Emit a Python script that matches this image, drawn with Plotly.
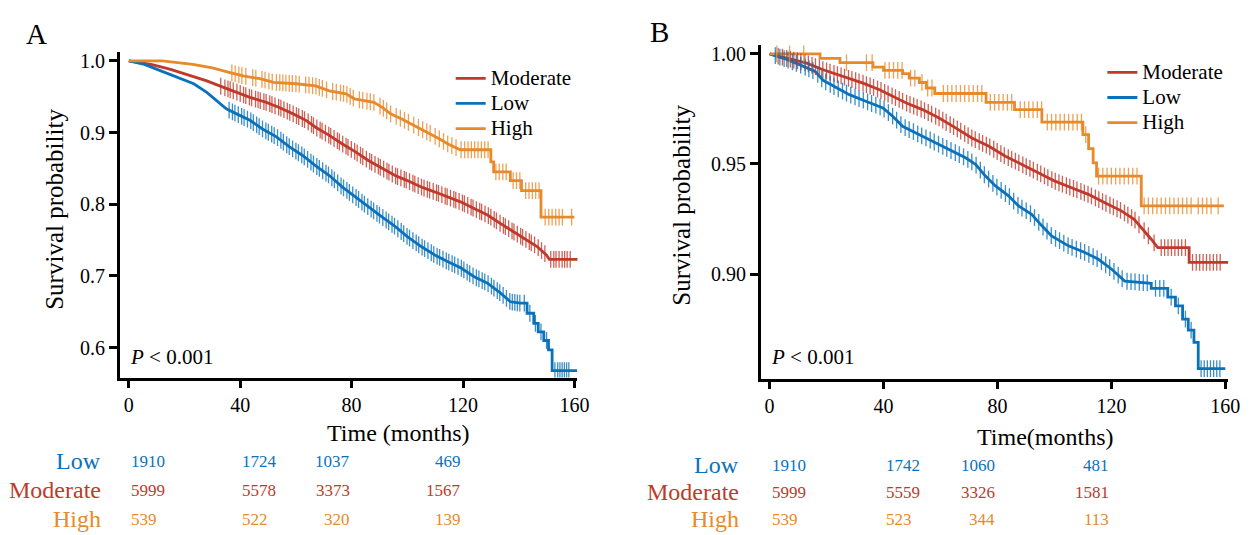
import numpy as np
import plotly.graph_objects as go

FONT = "Liberation Serif"
C_MOD = "#C0392B"
C_LOW = "#0A72BA"
C_HIGH = "#E8892A"

groups = ["Moderate", "Low", "High"]
colors = {"Moderate": C_MOD, "Low": C_LOW, "High": C_HIGH}

# ---------------- Panel A curves ----------------
A_mod_t = [0, 8, 15, 22, 28, 34, 39, 43.5, 49.4, 54, 59, 63.6, 67.2, 72, 76.7, 81.4, 86, 91, 95.6, 100,
           105, 110, 114.6, 119.3, 124, 128.8, 133.5, 138, 143, 146.6, 150, 151, 161.4]
A_mod_s = [1, .995, .988, .979, .972, .963, .956, .949, .942, .935, .926, .917, .907, .896, .884, .873, .861,
           .85, .84, .833, .824, .817, .81, .803, .794, .785, .773, .762, .75, .741, .729, .723, .723]

A_low_t = [0, 5.6, 11.5, 17.4, 23.3, 28, 31.6, 35, 38.7, 43.5, 48, 53, 57.7, 62.4, 67, 72, 76.7, 81.4, 86,
           91, 95.6, 100, 105, 110, 114.6, 119.3, 124, 128.8, 133.5, 137, 140.6, 143, 143, 145.4, 145.4,
           147, 147, 149, 149, 150.7, 150.7, 152, 152, 161]
A_low_s = [1, .995, .986, .977, .968, .956, .944, .933, .926, .917, .905, .894, .88, .868, .854, .84, .824,
           .81, .796, .782, .769, .755, .741, .729, .72, .711, .699, .69, .676, .664, .662, .662, .648, .648,
           .634, .634, .622, .622, .61, .61, .597, .597, .568, .568]

A_high_t = [0, 12, 23, 30, 36, 41, 47, 52, 60, 67, 72, 78, 81, 88, 91, 94, 98, 101.5, 105, 108.6, 111.6,
            114.6, 117, 119, 130, 130, 131, 131, 137, 137, 141, 141, 148, 148, 160]
A_high_s = [1, 1, .995, .99, .984, .979, .975, .97, .968, .965, .958, .954, .947, .942, .935, .926, .919,
            .912, .905, .898, .891, .884, .88, .876, .876, .859, .859, .845, .845, .833, .833, .819, .819,
            .782, .782]

A_mod_c = [33, 34.5, 35.6, 36.4, 37.5, 38.8, 40, 41.2, 42, 43.3, 44.1, 45.5, 46.4, 47.2, 48.5, 49.3, 50.6,
           51.4, 52.5, 53.8, 54.6, 55.7, 56.9, 57.8, 59, 60.2, 61, 62.3, 63.1, 64.4, 65.6, 66.3, 67.5, 68.7,
           69.4, 70.6, 71.8, 72.5, 73.7, 74.9, 75.6, 76.8, 78, 78.7, 79.9, 81.1, 82, 83.2, 84, 85.3, 86.5,
           87.2, 88.4, 89.6, 90.3, 91.5, 92.7, 93.4, 94.6, 95.8, 96.5, 97.7, 98.9, 99.6, 100.8, 102, 102.7,
           103.9, 105.1, 106, 107.2, 108, 109.3, 110.5, 111.2, 112.4, 113.6, 114.3, 115.5, 116.7, 117.4,
           118.6, 119.8, 120.5, 121.7, 122.9, 123.6, 124.8, 126, 126.7, 127.9, 129.1, 130, 131.2, 132,
           133.3, 134.5, 135.2, 136.4, 137.6, 138.3, 139.5, 140.7, 141.4, 142.6, 143.8, 144.5, 145.7,
           147, 148.2, 149.4, 151.5, 152.6, 153.4, 154.5, 155.6, 156.5, 157.4, 158.5]
A_low_c = [36, 37.2, 38.1, 39.3, 40.5, 41.4, 42.6, 43.8, 44.7, 45.9, 46.8, 48, 49.2, 50.1, 51.3, 52.2, 53.4,
           54.6, 55.5, 56.7, 57.6, 58.8, 60, 60.9, 62.1, 63, 64.2, 65.4, 66.3, 67.5, 68.4, 69.6, 70.8, 71.7,
           72.9, 73.8, 75, 76.2, 77.1, 78.3, 79.2, 80.4, 81.6, 82.5, 83.7, 84.6, 85.8, 87, 87.9, 89.1, 90,
           91.2, 92.4, 93.3, 94.5, 95.4, 96.6, 97.8, 98.7, 99.9, 100.8, 102, 103.2, 104.1, 105.3, 106.2,
           107.4, 108.6, 109.5, 110.7, 111.6, 112.8, 114, 114.9, 116.1, 117, 118.2, 119.4, 120.3, 121.5,
           122.4, 123.6, 124.8, 125.7, 126.9, 127.8, 129, 130.2, 131.1, 132.3, 133.2, 134.4, 135.6, 136.8,
           137.7, 138.6, 139.5, 140.4, 142, 144, 146, 148, 150, 153, 154, 154.8, 155.6, 156.4, 157.2, 158]
A_high_c = [37, 38.2, 39.5, 40.6, 42, 44.5, 45.6, 47.8, 48.9, 50.3, 51.5, 53, 54.2, 55.3, 56.4, 57.6, 58.7,
            60, 61.2, 63.5, 64.7, 66, 67.2, 68.4, 69.5, 71, 73.2, 74.5, 76, 77.1, 78.3, 79.5, 80.6, 82.8,
            84, 85.5, 86.7, 88, 90.2, 91.4, 92.6, 94, 96, 97.5, 99, 100.4, 102.3, 104, 105.5, 107, 108.2,
            110, 111.5, 113, 114.5, 116, 117.5, 119.3, 120.6, 121.8, 123, 124.2, 125.4, 126.6, 127.8, 129,
            131.8, 133, 134.3, 135.5, 138, 139.2, 140.4, 142.5, 143.7, 144.9, 146.1, 147.3, 149.5, 150.8,
            152, 153.3, 154.5, 155.7, 159]

# ---------------- Panel B curves ----------------
B_mod_t = [0, 6, 13, 18.8, 25.8, 32.8, 38.6, 43.3, 48, 53.7, 59.5, 65.3, 71, 77, 82.8, 88.6, 94.4, 100.2,
           106, 111.9, 117.7, 123.5, 128, 131.6, 134, 136.3, 147.3, 147.3, 162]
B_mod_s = [1, .998, .9958, .9928, .9897, .9867, .9837, .9807, .9777, .9747, .9709, .9664, .9618, .958,
           .9535, .9498, .946, .9422, .9392, .9362, .9324, .9287, .9249, .9196, .9158, .912, .912, .9053,
           .9053]

B_low_t = [0, 4.9, 10.7, 16, 18.8, 23.5, 28, 34, 39.8, 43.3, 46.7, 52.6, 58.4, 64.2, 68.8, 72.3, 75.8,
           79.3, 84, 87.4, 92, 95.6, 99, 104.9, 110.7, 115.3, 120, 124.7, 134, 134, 139.8, 139.8, 142.5,
           142.5, 145, 145, 147, 147, 149, 149, 150.5, 150.5, 160]
B_low_s = [1, .998, .995, .992, .988, .9845, .9815, .9784, .9754, .9716, .9671, .9633, .9596, .9558, .9528,
           .9498, .9445, .94, .9354, .9309, .9271, .9219, .9173, .9128, .9098, .9068, .9023, .8968, .8958,
           .8935, .8935, .8895, .8895, .8855, .8855, .8795, .8795, .8745, .8745, .869, .869, .857, .857]

B_high_t = [0, 17.7, 17.7, 24.7, 24.7, 36.3, 36.3, 40, 40, 46.7, 46.7, 49, 49, 52.6, 52.6, 55, 55, 58, 58,
            76, 76, 86, 86, 95.6, 95.6, 110, 110, 112, 112, 113.6, 113.6, 114.8, 114.8, 130.5, 130.5,
            159.5]
B_high_s = [1, 1, .998, .998, .996, .996, .994, .994, .9925, .9925, .991, .991, .989, .989, .987, .987,
            .9845, .9845, .982, .982, .978, .978, .9747, .9747, .969, .969, .9633, .9633, .957, .957,
            .9505, .9505, .9445, .9445, .931, .931]

B_mod_c = [3, 4.5, 6, 7.3, 8.5, 9.8, 11, 12.4, 13.6, 14.9, 16.1, 17.5, 18.7, 20, 21.2, 22.6, 23.8, 25.1,
           26.3, 27.7, 28.9, 30.2, 31.4, 32.8, 34, 35.3, 36.5, 37.9, 39.1, 40.4, 41.6, 43, 44.2, 45.5, 46.7,
           48.1, 49.3, 50.6, 51.8, 53.2, 54.4, 55.7, 56.9, 58.3, 59.5, 60.8, 62, 63.4, 64.6, 65.9, 67.1,
           68.5, 69.7, 71, 72.2, 73.6, 74.8, 76.1, 77.3, 78.7, 79.9, 81.2, 82.4, 83.8, 85, 86.3, 87.5, 88.9,
           90.1, 91.4, 92.6, 94, 95.2, 96.5, 97.7, 99.1, 100.3, 101.6, 102.8, 104.2, 105.4, 106.7, 107.9,
           109.3, 110.5, 111.8, 113, 114.4, 115.6, 116.9, 118.1, 119.5, 120.7, 122, 123.2, 124.6, 125.8,
           127.1, 128.3, 129.7, 131.5, 133, 135, 137.5, 138.7, 139.9, 141.1, 142.3, 143.5, 144.7, 146,
           148.5, 149.8, 151, 152.2, 153.4, 154.6, 155.8, 157, 158.2]
B_low_c = [2, 3.6, 5.1, 6.5, 8, 9.4, 10.9, 12.5, 13.8, 15.2, 16.9, 18.3, 19.7, 21.3, 22.6, 24.1, 25.6, 27,
           28.5, 30, 31.4, 32.9, 34.4, 35.8, 37.3, 38.8, 40.2, 41.7, 43.2, 44.6, 46.1, 47.6, 49, 50.5, 52,
           53.4, 54.9, 56.4, 57.8, 59.3, 60.8, 62.2, 63.7, 65.2, 66.6, 68.1, 69.6, 71, 72.5, 74, 75.4, 76.9,
           78.4, 79.8, 81.3, 82.8, 84.2, 85.7, 87.2, 88.6, 90.1, 91.6, 93, 94.5, 96, 97.4, 98.9, 100.4,
           101.8, 103.3, 104.8, 106.2, 107.7, 109.2, 110.6, 112.1, 113.6, 115, 116.5, 118, 119.4, 120.9,
           122.4, 123.8, 125.5, 126.9, 128.3, 129.8, 131.2, 132.6, 135.5, 137, 138.4, 141, 143.5, 146,
           148, 151.5, 152.6, 153.7, 154.8, 155.9, 157, 158.1]
B_high_c = [2.5, 7, 12, 27, 34, 36, 40.5, 42, 43.5, 45, 46.5, 49.5, 51, 53.5, 55.5, 57, 61, 62.5, 64, 65.5,
            67, 68.5, 70, 71.5, 73, 74.5, 77.5, 79, 80.5, 82, 83.5, 85, 88, 89.5, 91, 92.5, 94, 95.5, 97.5,
            99, 100.5, 102, 103.5, 105, 106.5, 108, 109.5, 111, 115.5, 117, 118.5, 120, 121.5, 123, 124.5,
            126, 127.5, 129, 131.5, 133, 134.5, 136, 137.5, 139, 140.5, 142, 143.5, 145, 146.5, 148, 150.5,
            152, 153.5, 155, 157.5]

# ---------------- Risk tables ----------------
risk_times = [0, 40, 80, 120]
risk_rows = ["Low", "Moderate", "High"]
A_risk = {"Low": [1910, 1724, 1037, 469], "Moderate": [5999, 5578, 3373, 1567], "High": [539, 522, 320, 139]}
B_risk = {"Low": [1910, 1742, 1060, 481], "Moderate": [5999, 5559, 3326, 1581], "High": [539, 523, 344, 113]}

x_ticks = [0, 40, 80, 120, 160]
A_yticks = [0.6, 0.7, 0.8, 0.9, 1.0]
A_yticklabels = ["0.6", "0.7", "0.8", "0.9", "1.0"]
B_yticks = [0.90, 0.95, 1.00]
B_yticklabels = ["0.90", "0.95", "1.00"]


def surv_at(ts, ss, t):
    return float(np.interp(t, np.asarray(ts, float), np.asarray(ss, float)))


panels = {
    "A": {
        "curves": {"Moderate": (A_mod_t, A_mod_s, A_mod_c), "Low": (A_low_t, A_low_s, A_low_c),
                   "High": (A_high_t, A_high_s, A_high_c)},
        "xa": "x", "ya": "y", "legend": "legend",
    },
    "B": {
        "curves": {"Moderate": (B_mod_t, B_mod_s, B_mod_c), "Low": (B_low_t, B_low_s, B_low_c),
                   "High": (B_high_t, B_high_s, B_high_c)},
        "xa": "x2", "ya": "y2", "legend": "legend2",
    },
}

LEG_TXT = 21

fig = go.Figure()
for key, p in panels.items():
    for g in groups:
        t, s, c = p["curves"][g]
        fig.add_trace(go.Scatter(x=t, y=s, mode="lines",
                                 name=f'<span style="font-size:{LEG_TXT}px">{g}</span>',
                                 xaxis=p["xa"], yaxis=p["ya"],
                                 line=dict(color=colors[g], width=2.8), legend=p["legend"],
                                 showlegend=True))
    for g in groups:
        t, s, c = p["curves"][g]
        cy = [surv_at(t, s, ci) for ci in c]
        fig.add_trace(go.Scatter(x=c, y=cy, mode="markers", xaxis=p["xa"], yaxis=p["ya"],
                                 showlegend=False, hoverinfo="skip",
                                 marker=dict(symbol="line-ns-open", size=12, opacity=0.8,
                                             color=colors[g],
                                             line=dict(color=colors[g], width=1.3))))

# The page body keeps its default 8px margin: the figure starts 8px in from the
# window's top-left corner and is sized to reach the window's right and bottom edges.
PAGE_W, PAGE_H = 1255, 535
OFF = 8
W, H = PAGE_W - OFF, PAGE_H - OFF


def px(x):
    return (x - OFF) / W


def py(y):
    return 1 - (y - OFF) / H


axis_common = dict(showline=True, linecolor="black", linewidth=2.6, ticks="outside", ticklen=8,
                   tickwidth=2.6, tickcolor="black", showgrid=False, zeroline=False,
                   tickfont=dict(family=FONT, size=20, color="black"))

fig.update_layout(
    width=W, height=H, margin=dict(l=0, r=0, t=0, b=0),
    paper_bgcolor="white", plot_bgcolor="white",
    font=dict(family=FONT, color="black"),
    xaxis=dict(domain=[px(121), px(583)], range=[-3.2, 161.1], tickvals=x_ticks, anchor="y", **axis_common),
    yaxis=dict(domain=[py(377), py(50)], range=[0.5583, 1.0125], tickvals=A_yticks,
               ticktext=A_yticklabels, anchor="x", **axis_common),
    xaxis2=dict(domain=[px(768), px(1240)], range=[-3.13, 161.0], tickvals=x_ticks, anchor="y2",
                **axis_common),
    yaxis2=dict(domain=[py(378), py(43)], range=[0.8525, 1.0041], tickvals=B_yticks,
                ticktext=B_yticklabels, anchor="x2", **axis_common),
    legend=dict(x=px(455), y=py(59), xanchor="left", yanchor="top", bgcolor="rgba(0,0,0,0)",
                font=dict(family=FONT, size=17, color="black"), tracegroupgap=0),
    legend2=dict(x=px(1113), y=py(53), xanchor="left", yanchor="top", bgcolor="rgba(0,0,0,0)",
                 font=dict(family=FONT, size=17, color="black"), tracegroupgap=0),
)


def text_ann(text, x, y, size, color="black", xanchor="center", xref="paper", angle=0):
    return dict(text=text, x=x, y=y, xref=xref, yref="paper", xanchor=xanchor, yanchor="middle",
                showarrow=False, textangle=angle, font=dict(family=FONT, size=size, color=color))


ann = []
ann.append(text_ann("A", px(37), py(32), 29))
ann.append(text_ann("B", px(666), py(30), 29))
ann.append(text_ann("Survival probability", px(55), py(208), 25, angle=-90))
ann.append(text_ann("Survival probability", px(688), py(204), 25, angle=-90))
ann.append(text_ann("Time (months)", px(402), py(433), 24))
ann.append(text_ann("Time(months)", px(1055), py(437), 24))
ann.append(text_ann("<i>P</i> &lt; 0.001", px(129), py(356), 21, xanchor="left"))
ann.append(text_ann("<i>P</i> &lt; 0.001", px(776), py(356), 21, xanchor="left"))

anchors = ["left", "left", "right", "right"]
table_specs = [(A_risk, "x", 104, [461, 490, 519]), (B_risk, "x2", 748, [465, 492, 519])]
for risk, xr, label_x, rows_y in table_specs:
    for r, yy in zip(risk_rows, rows_y):
        ann.append(text_ann(r, px(label_x), py(yy), 24, color=colors[r], xanchor="right"))
        for tt, val, anc in zip(risk_times, risk[r], anchors):
            ann.append(text_ann(str(val), tt, py(yy), 17, color=colors[r], xanchor=anc, xref=xr))

fig.update_layout(annotations=ann)
fig.write_html("out.html")
